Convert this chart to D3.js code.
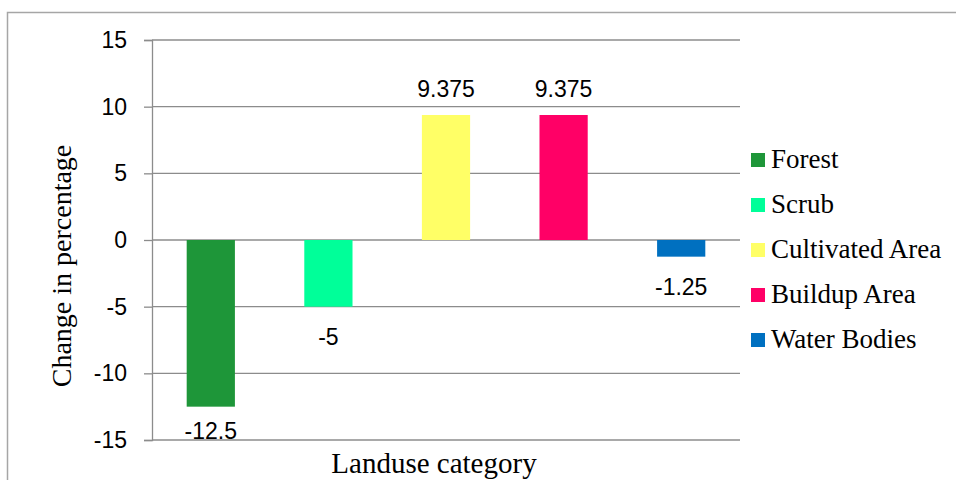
<!DOCTYPE html>
<html>
<head>
<meta charset="utf-8">
<script src="https://cdn.jsdelivr.net/npm/d3@7"></script>
<style>
  body { margin: 0; background: #fff; }
</style>
</head>
<body>
<div id="grafico"></div>
<script>
// DATOS
var categorias = ['Forest', 'Scrub', 'Cultivated Area', 'Buildup Area', 'Water Bodies'];
var valores = [-12.5, -5, 9.375, 9.375, -1.25];
var etiquetas = ['-12.5', '-5', '9.375', '9.375', '-1.25'];
var colores = ['#1e9639', '#00ff99', '#ffff66', '#ff0066', '#0070c0'];
var ticksY = [-15, -10, -5, 0, 5, 10, 15];

var ancho = 956, alto = 480;
var izq = 152, der = 740, arriba = 40, abajo = 440;

var svg = d3.select('#grafico').append('svg')
    .attr('width', ancho)
    .attr('height', alto);

// marco exterior
svg.append('rect')
    .attr('x', 7.5).attr('y', 12.5)
    .attr('width', 1000).attr('height', 600)
    .attr('fill', 'none')
    .attr('stroke', '#a6a6a6')
    .attr('stroke-width', 1.5);

// ESCALAS
var scale_x = d3.scaleBand()
    .domain(categorias)
    .range([izq, der])
    .paddingInner(0.59)
    .paddingOuter(0.295);

var scale_y = d3.scaleLinear()
    .domain([-15, 15])
    .range([abajo, arriba]);

// EJE Y con grilla (guion normal, no signo menos unicode)
var ejeY = svg.append('g')
    .attr('transform', 'translate(' + izq + ',0)')
    .call(d3.axisLeft(scale_y).tickValues(ticksY).tickSize(8).tickPadding(17)
        .tickFormat(function (d) { return String(d); }));
ejeY.select('.domain').attr('stroke', '#8c8c8c').attr('stroke-width', 1.3);
ejeY.selectAll('.tick line').attr('stroke', '#8c8c8c').attr('stroke-width', 1.3);
ejeY.selectAll('.tick text')
    .attr('font-family', 'Liberation Sans, Arial, sans-serif')
    .attr('font-size', 23)
    .attr('fill', '#000');

svg.append('g').selectAll('line')
    .data(ticksY)
    .join('line')
    .attr('x1', izq).attr('x2', der)
    .attr('y1', function (d) { return scale_y(d); })
    .attr('y2', function (d) { return scale_y(d); })
    .attr('stroke', '#8c8c8c')
    .attr('stroke-width', 1.3);

// BARRAS
svg.append('g').selectAll('rect')
    .data(valores)
    .join('rect')
    .attr('x', function (d, i) { return scale_x(categorias[i]); })
    .attr('width', scale_x.bandwidth())
    .attr('y', function (d) { return scale_y(Math.max(0, d)); })
    .attr('height', function (d) { return Math.abs(scale_y(d) - scale_y(0)); })
    .attr('fill', function (d, i) { return colores[i]; });

// ETIQUETAS DE VALOR
svg.append('g').selectAll('text')
    .data(valores)
    .join('text')
    .attr('x', function (d, i) { return scale_x(categorias[i]) + scale_x.bandwidth() / 2; })
    .attr('y', function (d) {
        if (d >= 0) return scale_y(d) - 18;
        return Math.min(scale_y(d) + 38, abajo - 1);
    })
    .attr('text-anchor', 'middle')
    .attr('font-family', 'Liberation Sans, Arial, sans-serif')
    .attr('font-size', 23)
    .attr('fill', '#000')
    .text(function (d, i) { return etiquetas[i]; });

// TITULOS DE EJES
svg.append('text')
    .attr('transform', 'translate(71,266) rotate(-90)')
    .attr('text-anchor', 'middle')
    .attr('font-family', 'Liberation Serif, Times New Roman, serif')
    .attr('font-size', 28)
    .attr('fill', '#000')
    .text('Change in percentage');

svg.append('text')
    .attr('x', 434)
    .attr('y', 473)
    .attr('text-anchor', 'middle')
    .attr('font-family', 'Liberation Serif, Times New Roman, serif')
    .attr('font-size', 29)
    .attr('fill', '#000')
    .text('Landuse category');

// LEYENDA
var leyenda = svg.append('g').selectAll('g')
    .data(categorias)
    .join('g')
    .attr('transform', function (d, i) { return 'translate(751,' + (160 + i * 45) + ')'; });

leyenda.append('rect')
    .attr('x', 0).attr('y', -7)
    .attr('width', 14).attr('height', 14)
    .attr('fill', function (d, i) { return colores[i]; });

leyenda.append('text')
    .attr('x', 20)
    .attr('y', 8)
    .attr('font-family', 'Liberation Serif, Times New Roman, serif')
    .attr('font-size', 27)
    .attr('fill', '#000')
    .text(function (d) { return d; });
</script>
</body>
</html>
